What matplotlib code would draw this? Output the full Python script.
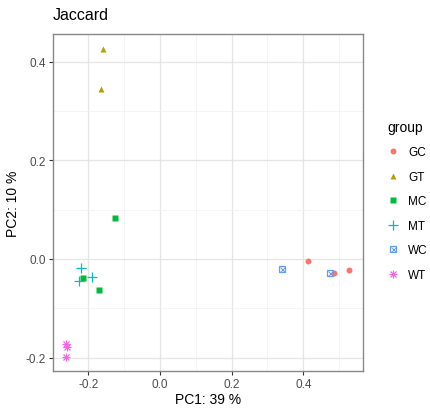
import matplotlib
matplotlib.use('Agg')
import matplotlib.pyplot as plt
from matplotlib.ticker import MultipleLocator
from matplotlib.legend_handler import HandlerTuple

plt.rcParams['font.family'] = ['Liberation Sans', 'DejaVu Sans']

# PCoA coordinates
groups = ['GC', 'GT', 'MC', 'MT', 'WC', 'WT']
pc1 = {
    'GC': [0.412, 0.487, 0.528],
    'GT': [-0.160, -0.166],
    'MC': [-0.126, -0.214, -0.170],
    'MT': [-0.221, -0.226, -0.191],
    'WC': [0.341, 0.476],
    'WT': [-0.262, -0.261, -0.262],
}
pc2 = {
    'GC': [-0.005, -0.029, -0.022],
    'GT': [0.425, 0.345],
    'MC': [0.083, -0.038, -0.063],
    'MT': [-0.018, -0.044, -0.036],
    'WC': [-0.020, -0.028],
    'WT': [-0.173, -0.179, -0.199],
}
colors = ['#F8766D', '#B79F00', '#00BA38', '#00BFC4', '#619CFF', '#F564E3']

fig = plt.figure(figsize=(4.3, 4.14), dpi=100)
ax = fig.add_axes([0.1226, 0.1022, 0.7209, 0.8133])


def draw_group(g, col, xs, ys):
    kw = dict(linestyle='none', color=col)
    if g == 'GC':
        h, = ax.plot(xs, ys, marker='o', markersize=4.3, mec='none', **kw)
    elif g == 'GT':
        h, = ax.plot(xs, ys, marker='^', markersize=4.8, mec='none', **kw)
    elif g == 'MC':
        h, = ax.plot(xs, ys, marker='s', markersize=4.3, mec='none', **kw)
    elif g == 'MT':
        h, = ax.plot(xs, ys, marker='+', markersize=6.5, mew=0.9, **kw)
    elif g == 'WC':
        h1, = ax.plot(xs, ys, marker='s', markersize=5, mfc='none', mew=0.9, **kw)
        h2, = ax.plot(xs, ys, marker='x', markersize=3.6, mew=0.7, **kw)
        h = (h1, h2)
    else:
        h1, = ax.plot(xs, ys, marker='+', markersize=5.5, mew=0.9, **kw)
        h2, = ax.plot(xs, ys, marker='x', markersize=4.5, mew=0.9, **kw)
        h = (h1, h2)
    return h


handles = []
for g, c in zip(groups, colors):
    draw_group(g, c, pc1[g], pc2[g])
    handles.append(draw_group(g, c, [], []))

ax.set_xlim(-0.2995, 0.566)
ax.set_ylim(-0.2266, 0.456)
ax.xaxis.set_major_locator(MultipleLocator(0.2))
ax.yaxis.set_major_locator(MultipleLocator(0.2))
ax.xaxis.set_minor_locator(MultipleLocator(0.1))
ax.yaxis.set_minor_locator(MultipleLocator(0.1))
ax.xaxis.set_major_formatter(plt.FuncFormatter(lambda v, p: '%.1f' % v))
ax.yaxis.set_major_formatter(plt.FuncFormatter(lambda v, p: '%.1f' % v))
ax.grid(which='major', color='#E5E5E5', linewidth=0.9)
ax.grid(which='minor', color='#F0F0F0', linewidth=0.5)
ax.set_axisbelow(True)
ax.tick_params(which='major', length=3, color='#333333', labelsize=8.5, labelcolor='#4D4D4D', pad=2)
ax.tick_params(which='minor', length=0)
for s in ax.spines.values():
    s.set_color('#888888')
    s.set_linewidth(1.0)

ax.set_xlabel('PC1: 39 %', fontsize=10, labelpad=2)
ax.set_ylabel('PC2: 10 %', fontsize=10, labelpad=4)
fig.text(0.123, 0.945, 'Jaccard', fontsize=11.5, ha='left', va='bottom')

leg = ax.legend(handles, groups, title='group', loc='upper left',
                bbox_to_anchor=(1.045, 0.777), frameon=False, fontsize=8.5,
                title_fontsize=10, handlelength=1.0, handletextpad=0.75,
                labelspacing=1.06, alignment='left',
                handler_map={tuple: HandlerTuple(ndivide=1, pad=0)})

fig.savefig('out.png', dpi=100)
